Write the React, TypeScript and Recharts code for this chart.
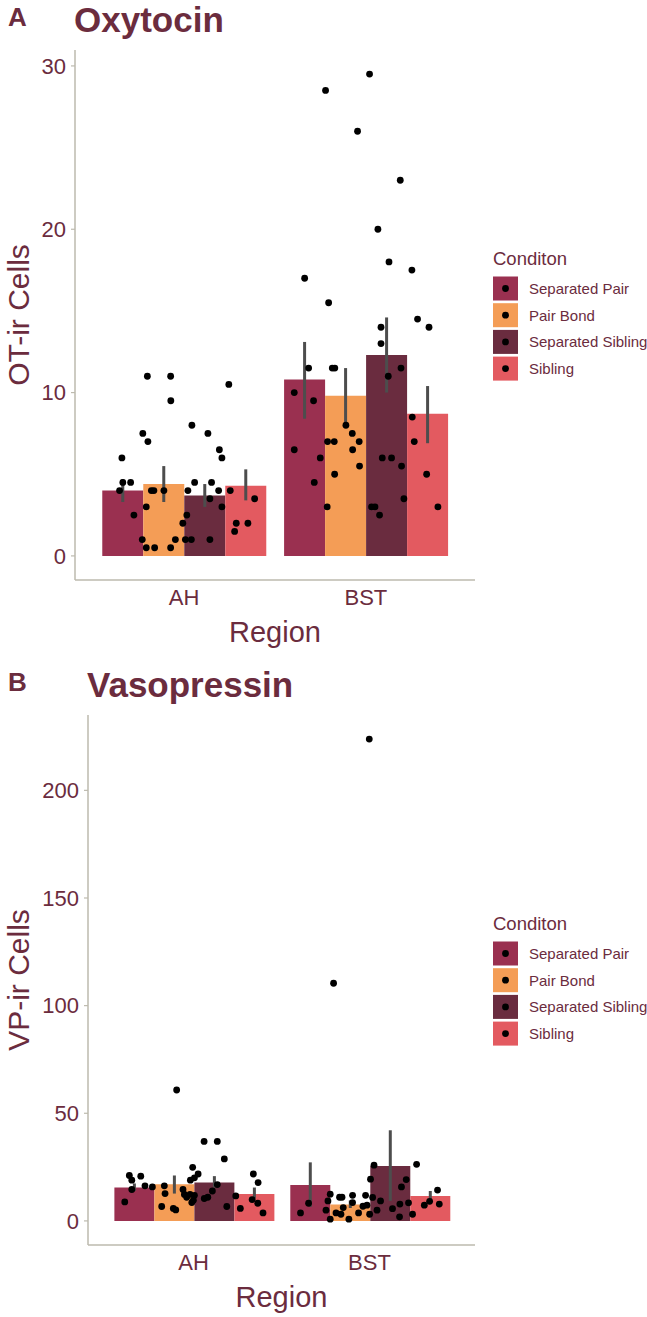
import React from "react";
import { Bar, ComposedChart, ErrorBar, Scatter, XAxis, YAxis } from "recharts";

const regions = ["AH", "BST"];
const conditions = ["Separated Pair", "Pair Bond", "Separated Sibling", "Sibling"];
const conditionKeys = ["sepPair", "pairBond", "sepSib", "sib"];
const conditionColors = ["#9A3050", "#F49D56", "#6A2C3F", "#E35A60"];

// rows = regions (AH, BST), columns = conditions
const otMeans = [[4.0, 4.4, 3.7, 4.3], [10.8, 9.8, 12.3, 8.7]];
const otLows = [[3.3, 3.3, 3.0, 3.4], [8.4, 8.1, 10.0, 6.9]];
const otHighs = [[4.7, 5.5, 4.4, 5.3], [13.1, 11.5, 14.6, 10.4]];
const otTicks = [0, 10, 20, 30];

const vpMeans = [[15.5, 17.0, 17.8, 12.5], [16.7, 7.6, 25.5, 11.6]];
const vpLows = [[13.9, 12.7, 15.5, 10.4], [6.5, 6.0, 9.3, 9.3]];
const vpHighs = [[17.4, 21.1, 20.8, 15.5], [27.2, 9.5, 42.1, 13.9]];
const vpTicks = [0, 50, 100, 150, 200];

// individual animals: [jitter from region centre, cell count]
const otAhPoints = [
  [-0.202, 11.0], [-0.074, 11.0], [0.246, 10.5], [-0.073, 9.5], [0.043, 8.0], [-0.227, 7.5],
  [0.131, 7.5], [-0.199, 7.0], [0.194, 6.5], [0.208, 6.0], [-0.342, 6.0], [-0.337, 4.5],
  [-0.294, 4.5], [0.058, 4.5], [0.151, 4.5], [-0.355, 4.0], [-0.18, 4.0], [-0.166, 4.0],
  [-0.111, 4.0], [0.021, 4.0], [0.19, 4.0], [0.254, 4.0], [0.142, 3.5], [-0.208, 3.0],
  [0.208, 3.0], [0.388, 3.5], [-0.276, 2.5], [0.015, 2.5], [-0.007, 2.0], [0.287, 2.0],
  [0.351, 2.0], [0.278, 1.5], [-0.23, 1.0], [-0.048, 1.0], [0.007, 1.0], [0.04, 1.0],
  [0.142, 1.0], [-0.208, 0.5], [-0.162, 0.5], [-0.074, 0.5],
];
const otBstPoints = [
  [0.02, 29.5], [-0.222, 28.5], [-0.046, 26.0], [0.189, 23.0], [0.066, 20.0], [0.127, 18.0],
  [0.253, 17.5], [-0.337, 17.0], [-0.205, 15.5], [0.284, 14.5], [0.347, 14.0], [0.083, 14.0],
  [0.083, 13.0], [-0.315, 11.5], [-0.185, 11.5], [-0.171, 11.5], [0.193, 11.5], [0.123, 11.0],
  [-0.394, 10.0], [-0.288, 9.5], [0.255, 8.5], [-0.11, 8.0], [-0.075, 7.5], [-0.211, 7.0],
  [-0.174, 7.0], [-0.037, 7.0], [0.266, 7.0], [-0.394, 6.5], [-0.073, 6.5], [-0.251, 6.0],
  [0.09, 6.0], [0.141, 6.0], [-0.035, 5.5], [0.196, 5.5], [-0.172, 5.0], [0.334, 5.0],
  [-0.284, 4.5], [0.209, 3.5], [-0.213, 3.0], [0.031, 3.0], [0.05, 3.0], [0.396, 3.0], [0.075, 2.5],
];
const vpAhPoints = [
  [0.06, 36.9], [0.135, 36.9], [0.175, 28.8], [-0.005, 24.9], [-0.365, 21.1], [-0.3, 20.8],
  [0.026, 21.8], [0.34, 21.8], [-0.351, 18.9], [0.005, 20.0], [-0.018, 18.9], [0.367, 17.8],
  [0.135, 16.9], [-0.276, 16.3], [-0.234, 15.8], [-0.166, 16.3], [-0.351, 14.6], [-0.06, 14.6],
  [0.107, 13.9], [-0.162, 12.7], [-0.052, 12.3], [-0.02, 12.3], [0.005, 11.9], [0.24, 11.6],
  [0.081, 11.0], [-0.039, 11.0], [0.061, 10.4], [0.333, 9.9], [-0.001, 9.6], [-0.01, 8.5],
  [-0.391, 8.8], [0.365, 8.2], [0.189, 6.7], [-0.181, 6.7], [-0.115, 5.8], [-0.101, 5.1],
  [0.266, 5.8], [0.395, 3.7], [-0.096, 60.8],
];
const vpBstPoints = [
  [-0.001, 223.8], [-0.204, 110.4], [0.026, 25.9], [0.268, 26.3], [0.006, 19.4], [0.209, 19.2],
  [0.182, 15.8], [0.387, 14.3], [-0.223, 12.4], [-0.156, 11.0], [-0.17, 11.0], [-0.096, 11.9],
  [-0.022, 11.9], [0.018, 10.9], [0.063, 9.3], [-0.236, 9.3], [-0.346, 8.2], [-0.096, 8.5],
  [0.342, 9.1], [0.222, 8.4], [0.312, 7.3], [0.397, 7.8], [-0.014, 7.3], [0.173, 7.8],
  [-0.037, 6.8], [-0.149, 6.2], [0.131, 5.7], [-0.247, 5.0], [0.043, 5.0], [-0.392, 3.7],
  [-0.19, 3.7], [-0.162, 3.1], [-0.062, 3.7], [0.001, 3.1], [0.245, 3.1], [0.171, 1.9],
  [-0.223, 0.8], [-0.117, 0.8],
];

const FONT = "'Liberation Sans', Arial, Helvetica, sans-serif";
const TEXT = "#6B2C3E";
const AXIS = "#BDBAAE";
const W = 647;
const PLOT_RIGHT = 475;

function buildRows(means: number[][], lows: number[][], highs: number[][]) {
  return regions.map((region, r) => {
    const row: any = { region };
    conditionKeys.forEach((k, c) => {
      row[k] = means[r][c];
      row[k + "Err"] = [means[r][c] - lows[r][c], highs[r][c] - means[r][c]];
    });
    return row;
  });
}

function buildPoints(ah: number[][], bst: number[][]) {
  return [
    ...ah.map(([dx, y]) => ({ x: 1 + dx, y })),
    ...bst.map(([dx, y]) => ({ x: 2 + dx, y })),
  ];
}

type PanelProps = {
  top: number;
  height: number;
  plotTop: number;
  plotBottom: number;
  plotLeft: number;
  rows: any[];
  points: { x: number; y: number }[];
  domain: [number, number];
  ticks: number[];
};

function Panel({ top, height, plotTop, plotBottom, plotLeft, rows, points, domain, ticks }: PanelProps) {
  const plotW = PLOT_RIGHT - plotLeft;
  // ggplot discrete axis: 0.6 units expansion each side, 1 unit per category
  const pad = plotW / 22;
  return (
    <div style={{ position: "absolute", left: 0, top, width: W, height }}>
      <ComposedChart
        width={W}
        height={height}
        data={rows}
        margin={{ top: plotTop - top, right: W - PLOT_RIGHT, bottom: top + height - plotBottom - 30, left: 0 }}
        barGap={0}
        barCategoryGap="5%"
      >
        <XAxis
          xAxisId="cat"
          dataKey="region"
          type="category"
          height={30}
          padding={{ left: pad, right: pad }}
          axisLine={{ stroke: AXIS, strokeWidth: 1.5 }}
          tickLine={{ stroke: "transparent" }}
          tickSize={4}
          tickMargin={5}
          tick={{ fill: TEXT, fontSize: 22, fontFamily: FONT }}
        />
        <XAxis xAxisId="jit" dataKey="x" type="number" domain={[0.4, 2.6]} allowDataOverflow hide />
        <YAxis
          type="number"
          domain={domain}
          ticks={ticks}
          interval={0}
          allowDataOverflow
          width={plotLeft}
          axisLine={{ stroke: AXIS, strokeWidth: 1.5 }}
          tickLine={{ stroke: AXIS, strokeWidth: 1.2 }}
          tickSize={4}
          tickMargin={5}
          tick={{ fill: TEXT, fontSize: 22, fontFamily: FONT }}
        />
        {conditionKeys.map((k, i) => (
          <Bar key={k} xAxisId="cat" dataKey={k} fill={conditionColors[i]} isAnimationActive={false}>
            <ErrorBar dataKey={k + "Err"} width={0} stroke="#4D4D4D" strokeWidth={3} direction="y" />
          </Bar>
        ))}
        <Scatter
          xAxisId="jit"
          data={points}
          dataKey="y"
          isAnimationActive={false}
          shape={(p: any) => <circle cx={p.cx} cy={p.cy} r={3.4} fill="#000" />}
        />
      </ComposedChart>
    </div>
  );
}

function Labels({ letter, title, yTitle, plotTop, plotBottom, plotLeft, legendTop }: any) {
  const midY = (plotTop + plotBottom) / 2;
  const midX = (plotLeft + PLOT_RIGHT) / 2;
  return (
    <g fontFamily={FONT} fill={TEXT}>
      <text x={8} y={plotTop - 24} fontSize={26} fontWeight="bold">{letter}</text>
      <text x={plotLeft - 1} y={plotTop - 18} fontSize={35} fontWeight="bold">{title}</text>
      <text x={29} y={midY} fontSize={30} textAnchor="middle" transform={`rotate(-90 29 ${midY})`}>{yTitle}</text>
      <text x={midX} y={plotBottom + 62} fontSize={29} textAnchor="middle">Region</text>
      <text x={493} y={legendTop} fontSize={18.5}>Conditon</text>
      {conditions.map((c, i) => {
        const ky = legendTop + 11.5 + i * 26.7;
        return (
          <g key={c}>
            <rect x={493} y={ky} width={25} height={24} fill={conditionColors[i]} />
            <circle cx={505.5} cy={ky + 12} r={3.4} fill="#000" />
            <text x={529} y={ky + 17.5} fontSize={15}>{c}</text>
          </g>
        );
      })}
    </g>
  );
}

export default function App() {
  const otRows = buildRows(otMeans, otLows, otHighs);
  const vpRows = buildRows(vpMeans, vpLows, vpHighs);
  return (
    <div style={{ position: "absolute", left: 0, top: 0, width: W, height: 1317, background: "#fff", overflow: "hidden" }}>
      <Panel
        top={0}
        height={657}
        plotTop={50}
        plotBottom={580}
        plotLeft={75}
        rows={otRows}
        points={buildPoints(otAhPoints, otBstPoints)}
        domain={[-1.475, 30.975]}
        ticks={otTicks}
      />
      <Panel
        top={657}
        height={660}
        plotTop={715}
        plotBottom={1245}
        plotLeft={88}
        rows={vpRows}
        points={buildPoints(vpAhPoints, vpBstPoints)}
        domain={[-11.19, 235]}
        ticks={vpTicks}
      />
      <svg width={W} height={1317} style={{ position: "absolute", left: 0, top: 0, pointerEvents: "none" }}>
        <Labels letter="A" title="Oxytocin" yTitle="OT-ir Cells" plotTop={50} plotBottom={580} plotLeft={75} legendTop={265} />
        <Labels letter="B" title="Vasopressin" yTitle="VP-ir Cells" plotTop={715} plotBottom={1245} plotLeft={88} legendTop={930} />
      </svg>
    </div>
  );
}
